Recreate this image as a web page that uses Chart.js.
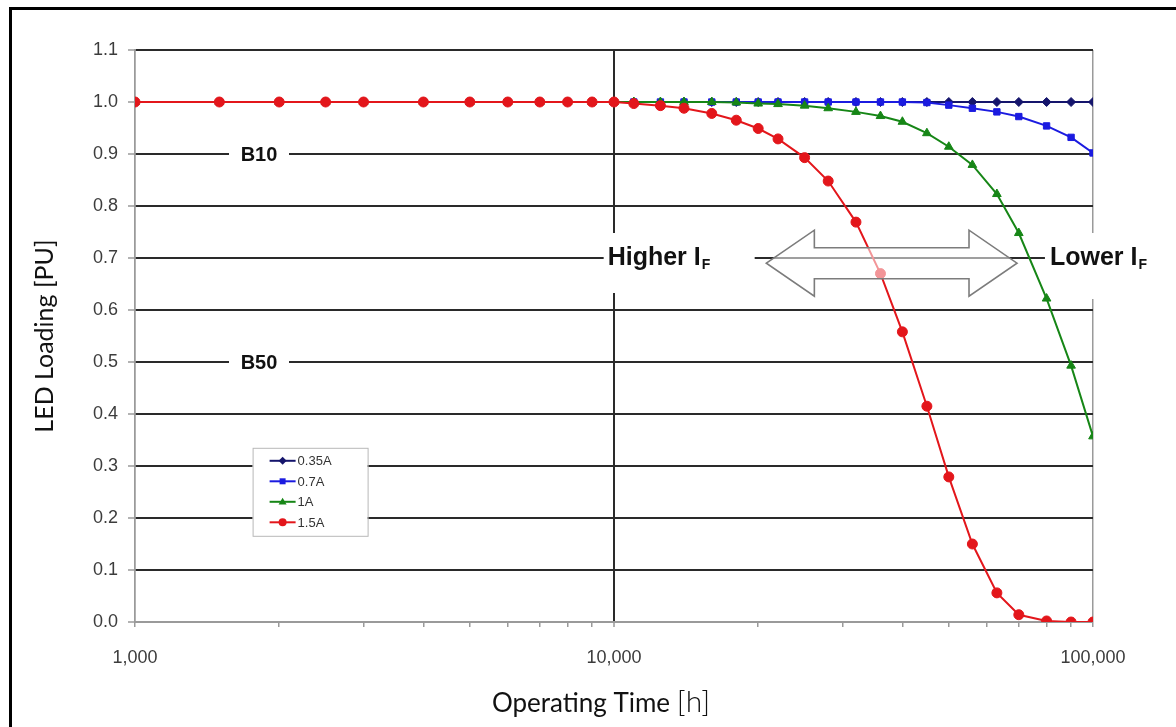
<!DOCTYPE html>
<html>
<head>
<meta charset="utf-8">
<title>LED Loading vs Operating Time</title>
<script src="https://cdn.jsdelivr.net/npm/chart.js@4.4.1/dist/chart.umd.min.js"></script>
<style>
  html, body { margin: 0; padding: 0; background: #fff; }
  #wrap { position: relative; width: 1176px; height: 727px; overflow: hidden; }
  #wrap canvas { position: absolute; left: 0; top: 0; }
  #frame { position: absolute; left: 9px; top: 7px; width: 1300px; height: 900px;
           border-left: 3px solid #000; border-top: 3px solid #000; pointer-events: none; }
</style>
</head>
<body>
<div id="wrap">
  <canvas id="chart" width="1176" height="727"></canvas>
  <div id="frame"></div>
</div>
<script>
/* ── Data ─────────────────────────────────────────── */
const hours = [1000, 1500, 2000, 2500, 3000, 4000, 5000, 6000, 7000, 8000, 9000,
  10000, 11000, 12500, 14000, 16000, 18000, 20000, 22000, 25000, 28000, 32000,
  36000, 40000, 45000, 50000, 56000, 63000, 70000, 80000, 90000, 100000];

const load035 = [1, 1, 1, 1, 1, 1, 1, 1, 1, 1, 1,
  1, 1, 1, 1, 1, 1, 1, 1, 1, 1, 1,
  1, 1, 1, 1, 1, 1, 1, 1, 1, 1];

const load07 = [1, 1, 1, 1, 1, 1, 1, 1, 1, 1, 1,
  1, 1, 1, 1, 1, 1, 1, 1, 1, 1, 1,
  1, 1, 0.999, 0.994, 0.988, 0.981, 0.972, 0.954, 0.932, 0.902];

const load1 = [1, 1, 1, 1, 1, 1, 1, 1, 1, 1, 1,
  1, 1, 1, 1, 1, 0.999, 0.997, 0.996, 0.993, 0.988, 0.981,
  0.973, 0.962, 0.940, 0.914, 0.879, 0.823, 0.748, 0.622, 0.493, 0.357];

const load15 = [1, 1, 1, 1, 1, 1, 1, 1, 1, 1, 1,
  1, 0.997, 0.993, 0.988, 0.978, 0.965, 0.949, 0.929, 0.893, 0.848, 0.769,
  0.670, 0.558, 0.415, 0.279, 0.150, 0.056, 0.014, 0.002, 0, 0];

const seriesLabels = ['0.35A', '0.7A', '1A', '1.5A'];
const xTickValues = [1000, 2000, 3000, 4000, 5000, 6000, 7000, 8000, 9000,
  10000, 20000, 30000, 40000, 50000, 60000, 70000, 80000, 90000, 100000];
const xTickLabels = { 1000: '1,000', 10000: '10,000', 100000: '100,000' };

/* ── Styles ───────────────────────────────────────── */
const GRID = '#2a2a2a', AXIS = '#9a9a9a', TICKTXT = '#3c3c3c';
const LABEL_FONT = '"Liberation Sans", Arial, sans-serif';
const TITLE_FONT = 'Lato, "Open Sans", sans-serif';

function series(label, values, color, style, radius, order) {
  return {
    label,
    data: hours.map((h, i) => ({ x: h, y: values[i] })),
    borderColor: color, backgroundColor: color,
    borderWidth: 2, tension: 0,
    pointStyle: style, pointRadius: radius, pointBorderWidth: 1,
    order
  };
}

const datasets = [
  series(seriesLabels[0], load035, '#15156c', 'rectRot', 4.5, 3),
  series(seriesLabels[1], load07,  '#1b1be0', 'rect',    4.5, 2),
  series(seriesLabels[2], load1,   '#168616', 'triangle', 5, 1),
  series(seriesLabels[3], load15,  '#e3161b', 'circle',  5, 0)
];

/* ── Marker helper for the legend ─────────────────── */
function marker(ctx, style, x, y, r, color) {
  ctx.fillStyle = color;
  ctx.beginPath();
  if (style === 'circle') {
    ctx.arc(x, y, r, 0, Math.PI * 2);
  } else if (style === 'rect') {
    ctx.rect(x - r * 0.75, y - r * 0.75, r * 1.5, r * 1.5);
  } else if (style === 'rectRot') {
    ctx.moveTo(x, y - r); ctx.lineTo(x + r, y); ctx.lineTo(x, y + r); ctx.lineTo(x - r, y);
  } else {
    ctx.moveTo(x, y - r); ctx.lineTo(x + r, y + r * 0.7); ctx.lineTo(x - r, y + r * 0.7);
  }
  ctx.closePath();
  ctx.fill();
}

/* label with a subscript, e.g. "Higher I" + "F" */
function subText(ctx, x, y, main, sub) {
  ctx.textAlign = 'left';
  ctx.textBaseline = 'middle';
  ctx.fillStyle = '#111';
  ctx.font = 'bold 25px ' + LABEL_FONT;
  ctx.fillText(main, x, y);
  const w = ctx.measureText(main).width;
  ctx.font = 'bold 14px ' + LABEL_FONT;
  ctx.fillText(sub, x + w + 1, y + 7);
  return w + 1 + ctx.measureText(sub).width;
}

/* ── Annotations: B10/B50, I_F labels, arrow, legend, x title ── */
const annotate = {
  id: 'annotate',
  beforeDatasetsDraw(chart) {
    const { ctx, scales: { x, y } } = chart;
    ctx.save();

    // B10 / B50 markers sitting in gaps of the grid lines
    [['B10', 0.9], ['B50', 0.5]].forEach(([txt, v]) => {
      const cx = x.getPixelForValue(1815), cy = y.getPixelForValue(v);
      ctx.fillStyle = '#fff';
      ctx.fillRect(cx - 30, cy - 12, 60, 24);
      ctx.fillStyle = '#111';
      ctx.font = 'bold 20px ' + LABEL_FONT;
      ctx.textAlign = 'center';
      ctx.textBaseline = 'middle';
      ctx.fillText(txt, cx, cy + 1);
    });

    // Higher / Lower forward current labels
    const yL = y.getPixelForValue(0.7);
    const hx = x.getPixelForValue(9700);
    ctx.fillStyle = '#fff';
    ctx.fillRect(hx - 4, yL - 25, 151, 60);
    subText(ctx, hx, yL, 'Higher I', 'F');

    const lx = x.getPixelForValue(81300);
    ctx.fillStyle = '#fff';
    ctx.fillRect(lx - 5, yL - 25, 120, 66);
    subText(ctx, lx, yL, 'Lower I', 'F');

    // legend box
    const bx = x.getPixelForValue(1760), by = y.getPixelForValue(0.335);
    ctx.fillStyle = '#fff';
    ctx.fillRect(bx, by, 115, 88);
    ctx.strokeStyle = '#b8b8b8';
    ctx.lineWidth = 1;
    ctx.strokeRect(bx + 0.5, by + 0.5, 115, 88);
    chart.data.datasets.forEach((ds, i) => {
      const ly = by + 13 + i * 20.5;
      ctx.strokeStyle = ds.borderColor;
      ctx.lineWidth = 2;
      ctx.beginPath();
      ctx.moveTo(bx + 17, ly); ctx.lineTo(bx + 43, ly);
      ctx.stroke();
      marker(ctx, ds.pointStyle, bx + 30, ly, 4, ds.borderColor);
      ctx.fillStyle = '#333';
      ctx.font = '13px ' + LABEL_FONT;
      ctx.textAlign = 'left';
      ctx.textBaseline = 'middle';
      ctx.fillText(ds.label, bx + 45, ly + 1);
    });
    ctx.restore();
  },

  afterDatasetsDraw(chart) {
    const { ctx, scales: { x, y } } = chart;
    // double-headed outline arrow between the two current labels
    const x0 = x.getPixelForValue(20800), x1 = x.getPixelForValue(69400);
    const cy = y.getPixelForValue(0.69);
    const head = 48, hh = 33, sh = 15.5;
    ctx.save();
    ctx.beginPath();
    ctx.moveTo(x0, cy);
    ctx.lineTo(x0 + head, cy - hh);
    ctx.lineTo(x0 + head, cy - sh);
    ctx.lineTo(x1 - head, cy - sh);
    ctx.lineTo(x1 - head, cy - hh);
    ctx.lineTo(x1, cy);
    ctx.lineTo(x1 - head, cy + hh);
    ctx.lineTo(x1 - head, cy + sh);
    ctx.lineTo(x0 + head, cy + sh);
    ctx.lineTo(x0 + head, cy + hh);
    ctx.closePath();
    ctx.fillStyle = 'rgba(255,255,255,0.55)';
    ctx.fill();
    ctx.strokeStyle = '#7c7c7c';
    ctx.lineWidth = 1.6;
    ctx.stroke();
    ctx.restore();
  },

  afterDraw(chart) {
    const { ctx, chartArea } = chart;
    // x axis title, the unit set slightly larger
    ctx.save();
    ctx.fillStyle = '#111';
    ctx.textBaseline = 'alphabetic';
    ctx.textAlign = 'left';
    ctx.font = '26px ' + TITLE_FONT;
    const main = 'Operating Time ';
    const wm = ctx.measureText(main).width;
    ctx.font = '300 30px ' + TITLE_FONT;
    const wu = ctx.measureText('[h]').width;
    const sx = (chartArea.left + chartArea.right) / 2 - 13 - (wm + wu) / 2;
    ctx.font = '26px ' + TITLE_FONT;
    ctx.fillText(main, sx, 712);
    ctx.font = '300 30px ' + TITLE_FONT;
    ctx.fillText('[h]', sx + wm, 712);
    ctx.restore();
  }
};

/* ── Chart ────────────────────────────────────────── */
new Chart(document.getElementById('chart'), {
  type: 'line',
  data: { datasets },
  options: {
    responsive: false,
    animation: false,
    layout: { padding: { left: 0, top: 50, right: 83, bottom: 0 } },
    plugins: { legend: { display: false }, tooltip: { enabled: false } },
    scales: {
      x: {
        type: 'logarithmic',
        min: 1000, max: 100000,
        afterFit: s => { s.height = 105; },
        afterBuildTicks: s => { s.ticks = xTickValues.map(v => ({ value: v })); },
        border: { color: AXIS, width: 2 },
        grid: {
          color: c => c.tick && c.tick.value === 10000 ? GRID
            : (c.tick && (c.tick.value === 1000 || c.tick.value === 100000) ? AXIS : 'rgba(0,0,0,0)'),
          lineWidth: c => c.tick && c.tick.value === 10000 ? 2 : 1.5,
          tickColor: AXIS, tickLength: 5, tickWidth: 1.5
        },
        ticks: {
          autoSkip: false, maxRotation: 0, padding: 20,
          color: TICKTXT, font: { family: LABEL_FONT, size: 18 },
          callback: v => xTickLabels[v] || ''
        }
      },
      y: {
        min: 0, max: 1.1,
        afterFit: s => { s.width = 135; },
        border: { color: AXIS, width: 1.5 },
        grid: {
          color: c => c.tick && c.tick.value === 0 ? 'rgba(0,0,0,0)' : GRID,
          lineWidth: 2,
          tickColor: AXIS, tickLength: 7, tickWidth: 1.5
        },
        ticks: {
          stepSize: 0.1, padding: 10,
          color: TICKTXT, font: { family: LABEL_FONT, size: 18 },
          callback: v => v.toFixed(1)
        },
        title: {
          display: true, text: 'LED Loading [PU]', color: '#111',
          font: { family: TITLE_FONT, size: 25 },
          padding: { top: 30, bottom: 0 }
        }
      }
    }
  },
  plugins: [annotate]
});
</script>
</body>
</html>
